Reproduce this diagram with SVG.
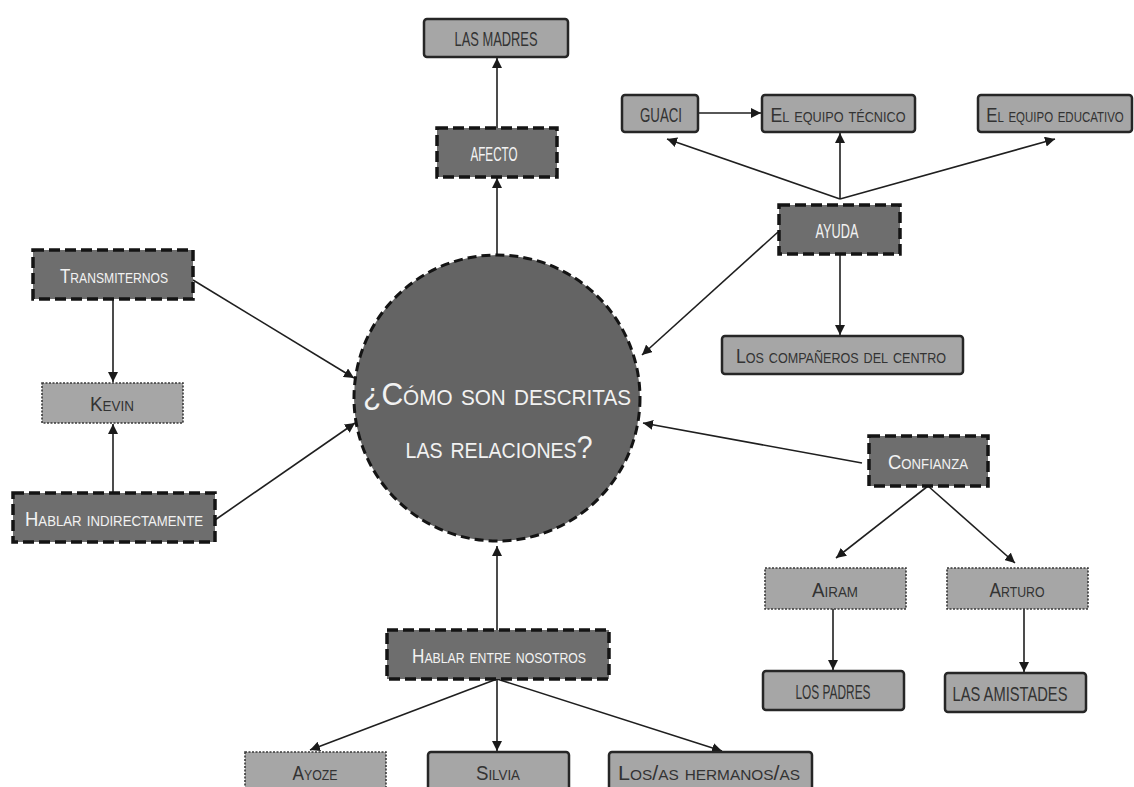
<svg xmlns="http://www.w3.org/2000/svg" width="1134" height="787" viewBox="0 0 1134 787">
<defs>
<marker id="ah" viewBox="0 0 10 10" refX="10" refY="5" markerWidth="10" markerHeight="10" markerUnits="userSpaceOnUse" orient="auto">
<path d="M0,0 L10,5 L0,10 Z" fill="#1a1a1a"/>
</marker>
</defs>
<style>
.light{fill:#a6a6a6;stroke:#262626;stroke-width:2.5}
.dark{fill:#6e6e6e;stroke:#141414;stroke-width:3.5;stroke-dasharray:11 5}
.dot{fill:#a6a6a6;stroke:#3a3a3a;stroke-width:1.6;stroke-dasharray:2 1.5}
text{font-family:"Liberation Sans Narrow","Liberation Sans",Arial,sans-serif;font-size:21px;text-anchor:middle;font-variant:small-caps}
.tl{fill:#333333}
.td{fill:#f2f2f2}
.big{font-size:32px}
.c line{stroke:#1f1f1f;stroke-width:1.6;marker-end:url(#ah)}
</style>
<rect width="1134" height="787" fill="#ffffff"/>
<g class="c" id="connectors">
<line x1="497" y1="128" x2="497" y2="58"/>
<line x1="497" y1="254" x2="497" y2="178"/>
<line x1="698" y1="113" x2="761" y2="113"/>
<line x1="840" y1="199" x2="667" y2="139"/>
<line x1="840" y1="199" x2="840" y2="133"/>
<line x1="840" y1="199" x2="1055" y2="139"/>
<line x1="778" y1="232" x2="642" y2="355"/>
<line x1="840" y1="254" x2="840" y2="335"/>
<line x1="113" y1="299" x2="113" y2="382"/>
<line x1="113" y1="493" x2="113" y2="424"/>
<line x1="193" y1="280" x2="354" y2="378"/>
<line x1="215" y1="520" x2="355" y2="423"/>
<line x1="862" y1="463" x2="643" y2="423"/>
<line x1="928" y1="486" x2="836" y2="558"/>
<line x1="928" y1="486" x2="1015" y2="563"/>
<line x1="833" y1="609" x2="833" y2="670"/>
<line x1="1024" y1="609" x2="1024" y2="672"/>
<line x1="497" y1="630" x2="497" y2="546"/>
<line x1="497" y1="679" x2="310" y2="750"/>
<line x1="497" y1="679" x2="497" y2="751"/>
<line x1="497" y1="679" x2="722" y2="751"/>
</g>
<g id="center">
<circle cx="497" cy="398" r="143" fill="#646464" stroke="#141414" stroke-width="3" stroke-dasharray="9 5"/>
<text class="td big" x="497" y="405" textLength="268" lengthAdjust="spacingAndGlyphs">¿Cómo son descritas</text>
<text class="td big" x="499" y="458" textLength="187" lengthAdjust="spacingAndGlyphs">las relaciones?</text>
</g>
<g id="las-madres"><rect class="light" x="424" y="19" width="144" height="38" rx="3"/><text class="tl" x="496" y="46" textLength="83" lengthAdjust="spacingAndGlyphs">LAS MADRES</text></g>
<g id="afecto"><rect class="dark" x="437" y="128" width="120" height="49"/><text class="td" x="494" y="161" textLength="47" lengthAdjust="spacingAndGlyphs">AFECTO</text></g>
<g id="guaci"><rect class="light" x="622" y="95" width="76" height="37" rx="3"/><text class="tl" x="661" y="122" textLength="42" lengthAdjust="spacingAndGlyphs">GUACI</text></g>
<g id="equipo-tecnico"><rect class="light" x="762" y="95" width="153" height="37" rx="3"/><text class="tl" x="838" y="122" textLength="135" lengthAdjust="spacingAndGlyphs">El equipo técnico</text></g>
<g id="equipo-educativo"><rect class="light" x="978" y="95" width="154" height="37" rx="3"/><text class="tl" transform="translate(1055,122) scale(0.8,1)" x="0" y="0" textLength="172" lengthAdjust="spacingAndGlyphs">El equipo educativo</text></g>
<g id="ayuda"><rect class="dark" x="779" y="205" width="121" height="49"/><text class="td" x="837" y="238" textLength="43" lengthAdjust="spacingAndGlyphs">AYUDA</text></g>
<g id="companeros"><rect class="light" x="722" y="336" width="241" height="38" rx="3"/><text class="tl" x="841" y="363" textLength="210" lengthAdjust="spacingAndGlyphs">Los compañeros del centro</text></g>
<g id="transmiternos"><rect class="dark" x="33" y="250" width="160" height="49"/><text class="td" x="114" y="283" textLength="108" lengthAdjust="spacingAndGlyphs">Transmiternos</text></g>
<g id="kevin"><rect class="dot" x="42" y="383" width="141" height="40"/><text class="tl" x="112" y="411" textLength="44" lengthAdjust="spacingAndGlyphs">Kevin</text></g>
<g id="hablar-indirectamente"><rect class="dark" x="13" y="493" width="202" height="49"/><text class="td" x="114" y="526" textLength="178" lengthAdjust="spacingAndGlyphs">Hablar indirectamente</text></g>
<g id="confianza"><rect class="dark" x="869" y="436" width="119" height="50"/><text class="td" x="928" y="469" textLength="80" lengthAdjust="spacingAndGlyphs">Confianza</text></g>
<g id="airam"><rect class="dot" x="765" y="568" width="141" height="41"/><text class="tl" x="835" y="597" textLength="46" lengthAdjust="spacingAndGlyphs">Airam</text></g>
<g id="arturo"><rect class="dot" x="947" y="568" width="141" height="41"/><text class="tl" x="1017" y="597" textLength="55" lengthAdjust="spacingAndGlyphs">Arturo</text></g>
<g id="los-padres"><rect class="light" x="763" y="671" width="141" height="39" rx="3"/><text class="tl" x="833" y="699" textLength="75" lengthAdjust="spacingAndGlyphs">LOS PADRES</text></g>
<g id="las-amistades"><rect class="light" x="945" y="673" width="141" height="39" rx="3"/><text class="tl" x="1010" y="701" textLength="115" lengthAdjust="spacingAndGlyphs">LAS AMISTADES</text></g>
<g id="hablar-entre-nosotros"><rect class="dark" x="387" y="630" width="222" height="49"/><text class="td" x="499" y="663" textLength="174" lengthAdjust="spacingAndGlyphs">Hablar entre nosotros</text></g>
<g id="ayoze"><rect class="dot" x="245" y="752" width="141" height="42"/><text class="tl" x="315" y="780" textLength="45" lengthAdjust="spacingAndGlyphs">Ayoze</text></g>
<g id="silvia"><rect class="light" x="428" y="752" width="141" height="42" rx="3"/><text class="tl" x="498" y="780" textLength="44" lengthAdjust="spacingAndGlyphs">Silvia</text></g>
<g id="hermanos"><rect class="light" x="609" y="752" width="203" height="42" rx="3"/><text class="tl" x="709" y="780" textLength="182" lengthAdjust="spacingAndGlyphs">Los/as hermanos/as</text></g>
</svg>
